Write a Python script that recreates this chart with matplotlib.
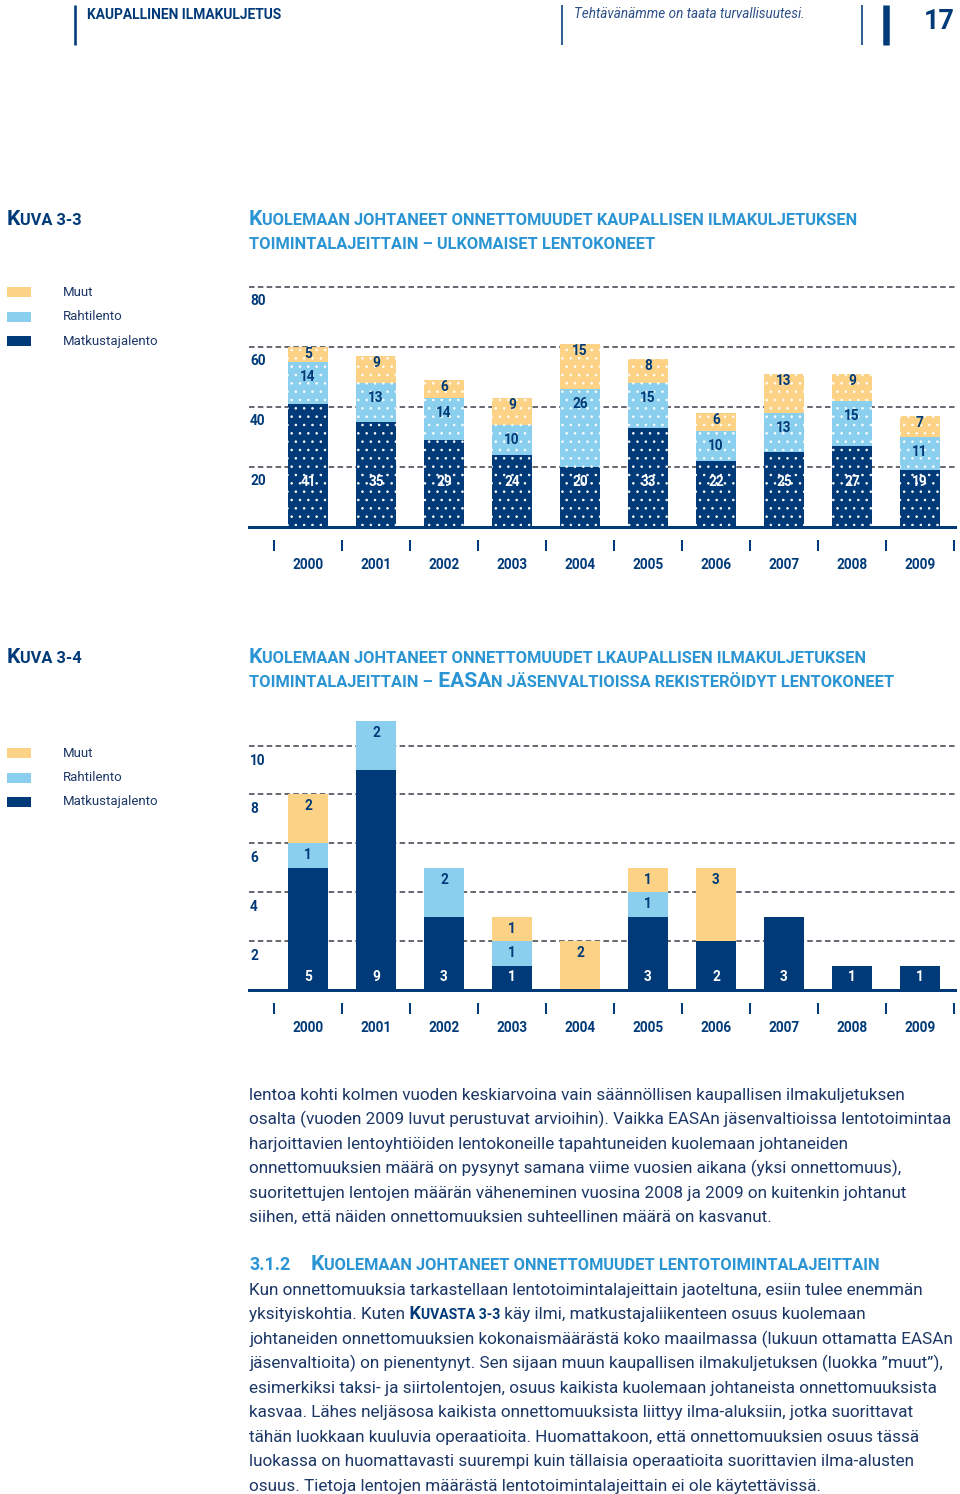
import matplotlib
matplotlib.use('Agg')
import matplotlib.pyplot as plt
import numpy as np
from matplotlib.patches import Rectangle
from matplotlib.lines import Line2D

# ---------------- data ----------------
years = ['2000', '2001', '2002', '2003', '2004', '2005', '2006', '2007', '2008', '2009']
series_names = ['Muut', 'Rahtilento', 'Matkustajalento']

# Kuva 3-3 (ulkomaiset lentokoneet)
c1_matk = [41, 35, 29, 24, 20, 33, 22, 25, 27, 19]
c1_rahti = [14, 13, 14, 10, 26, 15, 10, 13, 15, 11]
c1_muut = [5, 9, 6, 9, 15, 8, 6, 13, 9, 7]
c1_yticks = [20, 40, 60, 80]

# Kuva 3-4 (EASAn jäsenvaltioissa rekisteröidyt)
c2_matk = [5, 9, 3, 1, 0, 3, 2, 3, 1, 1]
c2_rahti = [1, 2, 2, 1, 0, 1, 0, 0, 0, 0]
c2_muut = [2, 0, 0, 1, 2, 1, 3, 0, 0, 0]
c2_yticks = [2, 4, 6, 8, 10]

header_left = 'KAUPALLINEN ILMAKULJETUS'
header_mid = 'Tehtävänämme on taata turvallisuutesi.'
page_no = '17'

kuva1 = 'Kuva 3-3'
title1 = ['Kuolemaan johtaneet onnettomuudet kaupallisen ilmakuljetuksen',
          'toimintalajeittain – ulkomaiset lentokoneet']
kuva2 = 'Kuva 3-4'
title2 = ['Kuolemaan johtaneet onnettomuudet lkaupallisen ilmakuljetuksen',
          'toimintalajeittain – EASAn jäsenvaltioissa rekisteröidyt lentokoneet']

para1 = [
    'lentoa kohti kolmen vuoden keskiarvoina vain säännöllisen kaupallisen ilmakuljetuksen',
    'osalta (vuoden 2009 luvut perustuvat arvioihin). Vaikka EASAn jäsenvaltioissa lentotoimintaa',
    'harjoittavien lentoyhtiöiden lentokoneille tapahtuneiden kuolemaan johtaneiden',
    'onnettomuuksien määrä on pysynyt samana viime vuosien aikana (yksi onnettomuus),',
    'suoritettujen lentojen määrän väheneminen vuosina 2008 ja 2009 on kuitenkin johtanut',
    'siihen, että näiden onnettomuuksien suhteellinen määrä on kasvanut.',
]
sec_no = '3.1.2'
sec_title = 'Kuolemaan johtaneet onnettomuudet lentotoimintalajeittain'
para2_line2 = ['yksityiskohtia. Kuten', ' Kuvasta 3-3', ' käy ilmi, matkustajaliikenteen osuus kuolemaan']
para2 = [
    'Kun onnettomuuksia tarkastellaan lentotoimintalajeittain jaoteltuna, esiin tulee enemmän',
    None,
    'johtaneiden onnettomuuksien kokonaismäärästä koko maailmassa (lukuun ottamatta EASAn',
    'jäsenvaltioita) on pienentynyt. Sen sijaan muun kaupallisen ilmakuljetuksen (luokka ”muut”),',
    'esimerkiksi taksi- ja siirtolentojen, osuus kaikista kuolemaan johtaneista onnettomuuksista',
    'kasvaa. Lähes neljäsosa kaikista onnettomuuksista liittyy ilma-aluksiin, jotka suorittavat',
    'tähän luokkaan kuuluvia operaatioita. Huomattakoon, että onnettomuuksien osuus tässä',
    'luokassa on huomattavasti suurempi kuin tällaisia operaatioita suorittavien ilma-alusten',
    'osuus. Tietoja lentojen määrästä lentotoimintalajeittain ei ole käytettävissä.',
]

# ---------------- style ----------------
W, H, DPI = 960, 1494, 100
NAVY = '#003a78'
TEXT = '#1c3766'
BLUE = '#2b95d4'
MUUT_C = '#fcd386'
RAHTI_C = '#8bcfef'
MATK_C = '#003a78'
GRID_C = '#3a3f4a'
FAM = ['Roboto', 'DejaVu Sans']

plt.rcParams['font.family'] = FAM
plt.rcParams['hatch.linewidth'] = 0.6

fig = plt.figure(figsize=(W / DPI, H / DPI), dpi=DPI)
fig.patch.set_facecolor('white')
renderer = fig.canvas.get_renderer()


def fx(p):
    return p / W


def fy(p):
    return 1 - p / H


def pt(p):
    return p * 72.0 / DPI


def width_of(s, size, **kw):
    t = fig.text(0, 0, s, fontsize=size, **kw)
    w = t.get_window_extent(renderer).width
    t.remove()
    return w


def fit(s, target, **kw):
    return 10.0 * target / width_of(s, 10.0, **kw)


def sc_runs(s):
    cls = []
    for i, ch in enumerate(s):
        if ch == ' ':
            nxt = next((c for c in s[i + 1:] if c != ' '), 'a')
            cls.append(nxt.isupper())
        else:
            cls.append(ch.isupper())
    runs = []
    for ch, big in zip(s, cls):
        if runs and runs[-1][1] == big:
            runs[-1][0] += ch
        else:
            runs.append([ch, big])
    return runs


def smallcaps(x, y, s, size, color, ratio=0.78, draw=True, weight='bold'):
    for txt, big in sc_runs(s):
        sz = size if big else size * ratio
        t = fig.text(fx(x), fy(y), txt.upper(), fontsize=sz, weight=weight,
                     color=color, ha='left', va='baseline')
        x += t.get_window_extent(renderer).width
        if not draw:
            t.remove()
    return x


def sc_fit(s, target, ratio=0.78):
    w = smallcaps(0, 0, s, 10.0, 'k', ratio=ratio, draw=False)
    return 10.0 * target / w


def vline(x, y0, y1, lw, color=NAVY):
    fig.add_artist(Line2D([fx(x), fx(x)], [fy(y0), fy(y1)], lw=lw, color=color,
                          solid_capstyle='butt'))


# ---------------- header ----------------
vline(75, 5, 45, pt(2.6))
vline(562, 5, 45, pt(1.6))
vline(862, 5, 45, pt(1.6))
vline(886, 5, 45, pt(6.5))
s = fit(header_left, 194, weight='bold')
fig.text(fx(87), fy(19), header_left, fontsize=s, weight='bold', color=NAVY,
         ha='left', va='baseline')
s = fit(header_mid, 230, style='italic')
fig.text(fx(574), fy(18), header_mid, fontsize=s, style='italic', color='#2c4f88',
         ha='left', va='baseline')
s = fit(page_no, 31, weight='bold')
fig.text(fx(924), fy(29), page_no, fontsize=s, weight='bold', color=NAVY,
         ha='left', va='baseline')

# ---------------- titles ----------------
tsize = sc_fit(title1[0], 613)
smallcaps(7, 225, kuva1, tsize, NAVY)
smallcaps(249, 225, title1[0], tsize, BLUE)
smallcaps(249, 249, title1[1], tsize, BLUE)
smallcaps(7, 663, kuva2, tsize, NAVY)
smallcaps(249, 663, title2[0], tsize, BLUE)
smallcaps(249, 687, title2[1], tsize, BLUE)

# ---------------- legends ----------------
leg_size = fit('Matkustajalento', 95)
leg_colors = [MUUT_C, RAHTI_C, MATK_C]
for ys in (292, 753):
    for k, (name, col) in enumerate(zip(series_names, leg_colors)):
        yc = ys + k * 24.5
        fig.add_artist(Rectangle((fx(7), fy(yc + 5)), 24 / W, 10 / H, facecolor=col,
                                 edgecolor='none'))
        fig.text(fx(63), fy(yc), name, fontsize=leg_size, color=TEXT, ha='left',
                 va='center')

# ---------------- charts ----------------
LAB = 9.8
SLOT, C0, XL, XR = 68.0, 308.0, 249.0, 955.0


def chart(top_px, base_px, ytop, matk, rahti, muut, yticks, hatch, off_base, off_rahti,
          off_muut, ylab_off):
    h_px = base_px - top_px
    ax = fig.add_axes([fx(XL), fy(base_px), (XR - XL) / W, h_px / H])
    n = len(years)
    x = np.arange(n)
    matk = np.array(matk)
    rahti = np.array(rahti)
    muut = np.array(muut)
    bw = 40 / SLOT
    ax.bar(x, matk, width=bw, color=MATK_C, edgecolor='white', lw=0, hatch=hatch, zorder=2)
    ax.bar(x, rahti, bottom=matk, width=bw, color=RAHTI_C, edgecolor='white', lw=0,
           hatch=hatch, zorder=2)
    ax.bar(x, muut, bottom=matk + rahti, width=bw, color=MUUT_C, edgecolor='white', lw=0,
           hatch=hatch, zorder=2)
    ax.set_xlim((XL - C0) / SLOT, (XR - C0) / SLOT)
    ax.set_ylim(0, ytop)
    kw = dict(ha='center', va='center', fontsize=LAB, weight='bold', zorder=3)
    for i in range(n):
        if matk[i] > 0:
            ax.annotate(str(matk[i]), (x[i], 0), xytext=(0, pt(off_base)),
                        textcoords='offset points', color='white', **kw)
        if rahti[i] > 0:
            ax.annotate(str(rahti[i]), (x[i], matk[i] + rahti[i]), xytext=(0, -pt(off_rahti)),
                        textcoords='offset points', color=NAVY, **kw)
        if muut[i] > 0:
            ax.annotate(str(muut[i]), (x[i], matk[i] + rahti[i] + muut[i]),
                        xytext=(0, -pt(off_muut)), textcoords='offset points', color=NAVY, **kw)
    ax.set_yticks(yticks)
    ax.yaxis.grid(True, color=GRID_C, ls=(0, (3.6, 2.2)), lw=1.1, zorder=0)
    ax.set_axisbelow(True)
    ax.tick_params(axis='y', length=0, labelleft=False)
    for v in yticks:
        ax.annotate(str(v), xy=(0, v), xycoords=('axes fraction', 'data'),
                    xytext=(pt(1), -pt(ylab_off)), textcoords='offset points',
                    ha='left', va='center', fontsize=LAB, weight='bold', color=NAVY)
    for sp in ('top', 'right', 'left'):
        ax.spines[sp].set_visible(False)
    ax.spines['bottom'].set_color(NAVY)
    ax.spines['bottom'].set_linewidth(pt(3))
    ax.spines['bottom'].set_zorder(4)
    ax.set_xticks(x, labels=years)
    ax.tick_params(axis='x', length=0, pad=pt(31), labelsize=LAB, labelcolor=NAVY)
    for lb in ax.get_xticklabels():
        lb.set_fontweight('bold')
    ax.vlines(np.arange(n + 1) - 0.5, -24 / h_px, -13 / h_px,
              transform=ax.get_xaxis_transform(), colors=NAVY, lw=pt(2), clip_on=False)
    ax.patch.set_alpha(0)
    return ax


# chart 1: 3 px per unit; chart 2: about 24.45 px per unit
chart(280, 527, (527 - 280) / 3.0, c1_matk, c1_rahti, c1_muut, c1_yticks, '..', 45, 15, 7, 14)
chart(712, 990, (990 - 712) / 24.45, c2_matk, c2_rahti, c2_muut, c2_yticks, None, 13, 12, 12, 15)

# ---------------- body text ----------------
bsize = fit(para1[0], 661)
LS = 24.45
for k, line in enumerate(para1):
    fig.text(fx(249), fy(1100 + k * LS), line, fontsize=bsize, color=TEXT, ha='left',
             va='baseline')

fig.text(fx(249), fy(1270), sec_no, fontsize=tsize * 0.85, weight='bold', color=BLUE,
         ha='left', va='baseline')
smallcaps(311, 1270, sec_title, tsize, BLUE)

y0 = 1295
for k, line in enumerate(para2):
    yb = y0 + k * LS
    if line is not None:
        fig.text(fx(249), fy(yb), line, fontsize=bsize, color=TEXT, ha='left', va='baseline')
    else:
        xx = 249
        a = fig.text(fx(xx), fy(yb), para2_line2[0], fontsize=bsize, color=TEXT, ha='left',
                     va='baseline')
        xx += a.get_window_extent(renderer).width
        xx = smallcaps(xx, yb, para2_line2[1], bsize * 1.05, NAVY)
        fig.text(fx(xx), fy(yb), para2_line2[2], fontsize=bsize, color=TEXT, ha='left',
                 va='baseline')

fig.savefig('out.png', dpi=DPI, facecolor='white')
